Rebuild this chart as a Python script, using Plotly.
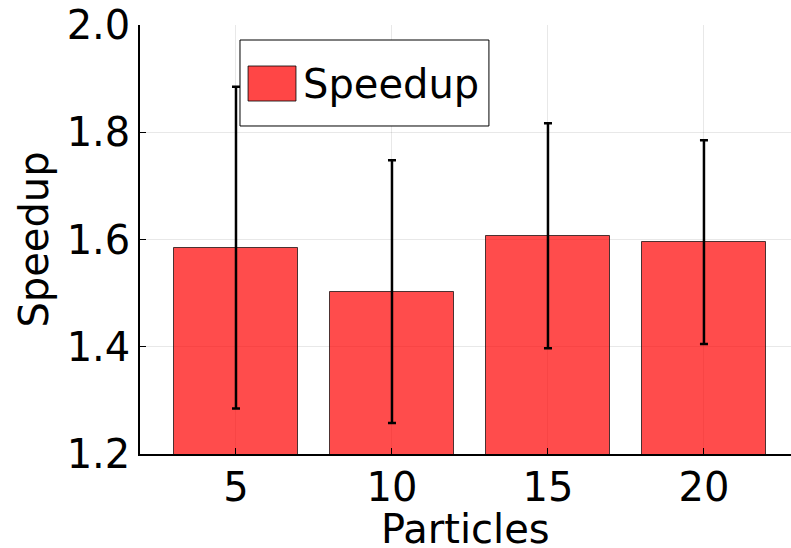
import plotly.graph_objects as go

particles = [5, 10, 15, 20]
speedup = [1.585, 1.503, 1.607, 1.595]
err = [0.300, 0.245, 0.210, 0.190]
y_ticks = [1.2, 1.4, 1.6, 1.8, 2.0]
y_tick_text = ["1.2", "1.4", "1.6", "1.8", "2.0"]
x_ticks = [5, 10, 15, 20]

FONT = "DejaVu Sans"
FS = 40
BAR_COLOR = "rgba(255,0,0,0.7)"

fig = go.Figure()
fig.add_trace(go.Bar(
    x=particles, y=speedup, width=4,
    marker=dict(color=BAR_COLOR, line=dict(color="rgba(0,0,0,0.7)", width=1)),
    error_y=dict(type="data", array=err, visible=True, color="black", thickness=2.5, width=4),
    name="Speedup", showlegend=False,
))

# manual legend (Plots.jl style)
fig.add_shape(type="rect", xref="paper", yref="paper", x0=0.1536, x1=0.536, y0=0.7646, y1=0.965,
              line=dict(color="black", width=1), fillcolor="white", layer="above")
fig.add_shape(type="rect", xref="paper", yref="paper", x0=0.166, x1=0.2396, y0=0.8228, y1=0.9044,
              line=dict(color="rgba(0,0,0,0.8)", width=1), fillcolor="rgba(255,70,70,1)", layer="above")
fig.add_annotation(xref="paper", yref="paper", x=0.2474, y=0.8625, xanchor="left", yanchor="middle",
                   text="Speedup", showarrow=False, font=dict(family=FONT, size=FS, color="black"))

# x-axis title (placed like the reference, partly below the page edge)
fig.add_annotation(xref="paper", yref="paper", x=0.5, y=0, xanchor="center", yanchor="top",
                   yshift=-50, text="Particles", showarrow=False,
                   font=dict(family=FONT, size=FS, color="black"))

fig.update_layout(
    width=791, height=548,
    margin=dict(l=140, r=0, t=25, b=94),
    plot_bgcolor="white", paper_bgcolor="white",
    font=dict(family=FONT, size=FS, color="black"),
    bargap=0,
    xaxis=dict(
        range=[1.923, 22.79], tickvals=x_ticks, ticktext=[str(v) for v in x_ticks],
        showgrid=True, gridcolor="rgba(0,0,0,0.09)", gridwidth=1,
        showline=True, linecolor="black", linewidth=1.5, mirror=False,
        ticks="inside", ticklen=6, tickcolor="black", tickwidth=1,
        zeroline=False, ticklabelstandoff=-3, automargin=False,
        tickfont=dict(family=FONT, size=FS),
    ),
    yaxis=dict(
        range=[1.2, 2.0], tickvals=y_ticks, ticktext=y_tick_text,
        showgrid=True, gridcolor="rgba(0,0,0,0.09)", gridwidth=1,
        showline=True, linecolor="black", linewidth=1.5, mirror=False,
        ticks="inside", ticklen=6, tickcolor="black", tickwidth=1,
        zeroline=False, automargin=False,
        title=dict(text="Speedup", font=dict(family=FONT, size=FS), standoff=6),
        tickfont=dict(family=FONT, size=FS),
    ),
)

fig.write_html("out.html")
